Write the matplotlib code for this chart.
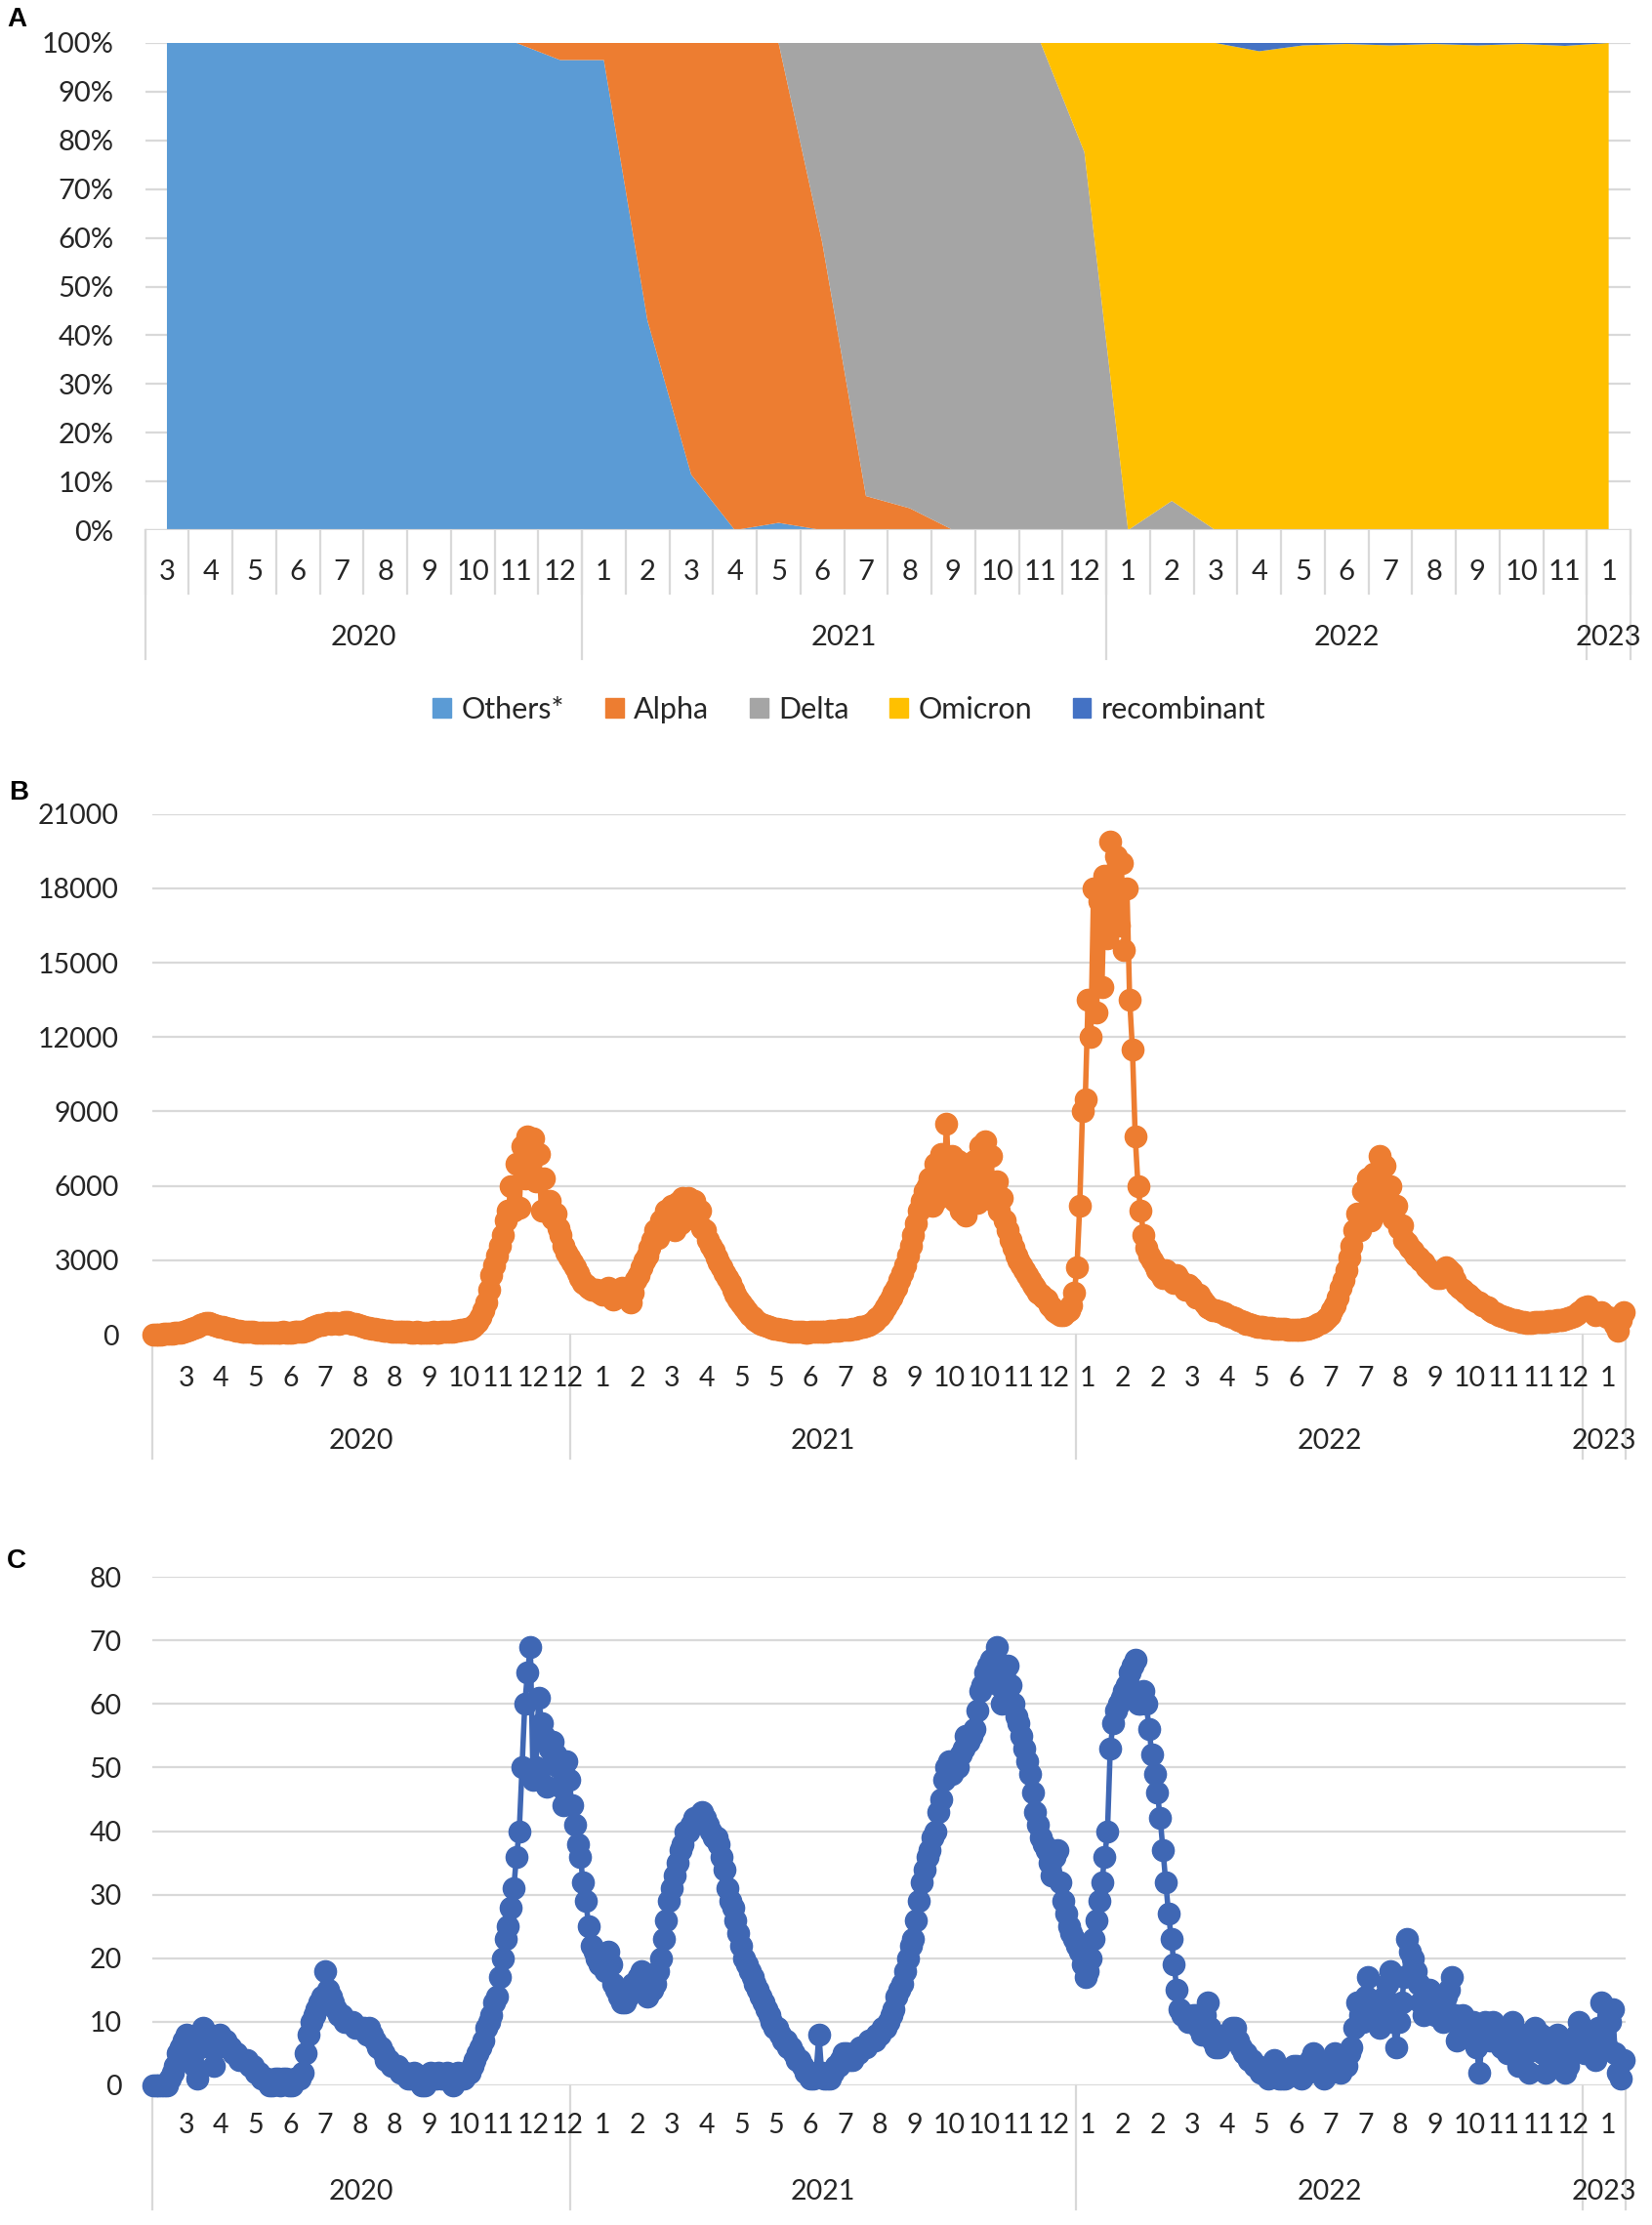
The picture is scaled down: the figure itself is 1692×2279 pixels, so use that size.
import numpy as np
import matplotlib
matplotlib.use('Agg')
import matplotlib.pyplot as plt
from matplotlib import transforms
from matplotlib.patches import Patch

plt.rcParams['font.family'] = ['Lato', 'DejaVu Sans']

W, H = 1692, 2279
GRID = '#D9D9D9'
TXT = '#262626'

# ---------------- panel A: monthly share of variants (%) ----------------
a_months = ['3', '4', '5', '6', '7', '8', '9', '10', '11', '12',
            '1', '2', '3', '4', '5', '6', '7', '8', '9', '10', '11', '12',
            '1', '2', '3', '4', '5', '6', '7', '8', '9', '10', '11',
            '1']
years = ['2020', '2021', '2022', '2023']
a_year_sizes = [10, 12, 11, 1]

others = [100, 100, 100, 100, 100, 100, 100, 100, 100, 96.5,
          96.5, 43, 11.4, 0, 1.5, 0, 0, 0, 0, 0, 0, 0,
          0, 0, 0, 0, 0, 0, 0, 0, 0, 0, 0,
          0]
alpha_v = [0, 0, 0, 0, 0, 0, 0, 0, 0, 3.5,
           3.5, 57, 88.6, 100, 98.5, 59, 7, 4.5, 0, 0, 0, 0,
           0, 0, 0, 0, 0, 0, 0, 0, 0, 0, 0,
           0]
delta = [0, 0, 0, 0, 0, 0, 0, 0, 0, 0,
         0, 0, 0, 0, 0, 41, 93, 95.5, 100, 100, 100, 77.6,
         0, 6, 0, 0, 0, 0, 0, 0, 0, 0, 0,
         0]
omicron = [0, 0, 0, 0, 0, 0, 0, 0, 0, 0,
           0, 0, 0, 0, 0, 0, 0, 0, 0, 0, 0, 22.4,
           100, 94, 100, 98.3, 99.5, 99.8, 99.5, 99.8, 99.5, 99.8, 99.4,
           100]
recomb = [0, 0, 0, 0, 0, 0, 0, 0, 0, 0,
          0, 0, 0, 0, 0, 0, 0, 0, 0, 0, 0, 0,
          0, 0, 0, 1.7, 0.5, 0.2, 0.5, 0.2, 0.5, 0.2, 0.6,
          0]
variant_names = ['Others*', 'Alpha', 'Delta', 'Omicron', 'recombinant']
variant_colors = ['#5B9BD5', '#ED7D31', '#A5A5A5', '#FFC000', '#4472C4']

# ---------------- panels B and C: daily series, every 2nd day from 2020-03-06 ----------------
start_date = np.datetime64('2020-03-06')
step_days = 2
cases = [
    0, 5, 10, 15, 20, 30, 40, 50, 60, 75, 90, 120, 150, 190, 230, 260, 300, 380, 420, 460,
    470, 430, 400, 360, 330, 300, 280, 250, 220, 190, 170, 150, 130, 120, 110, 100, 100, 95, 90, 85,
    80, 60, 70, 90, 80, 70, 90, 100, 80, 70, 90, 110, 100, 120, 130, 170, 200, 260, 300, 350,
    380, 400, 420, 460, 440, 480, 460, 420, 490, 520, 500, 470, 450, 420, 400, 360, 330, 290, 260, 240,
    220, 200, 180, 160, 150, 140, 130, 120, 110, 100, 100, 110, 100, 80, 90, 100, 90, 70, 80, 90,
    90, 100, 90, 80, 100, 120, 110, 100, 130, 150, 160, 180, 190, 220, 250, 300, 380, 500, 700, 1000,
    1300, 1800, 2400, 2800, 3200, 3600, 4000, 4600, 5000, 6000, 5000, 6900, 5100, 7600, 6300, 8000, 6800, 7900, 6200, 7300,
    5000, 6300, 5000, 5400, 4700, 4900, 4300, 4000, 3600, 3300, 3100, 2900, 2700, 2500, 2300, 2100, 2000, 1900, 1800, 1800,
    1800, 1700, 1600, 1800, 1900, 1600, 1400, 1700, 1800, 1900, 1700, 1500, 1300, 1700, 2200, 2400, 2700, 3000, 3200, 3500,
    3800, 4200, 3900, 4600, 4300, 5000, 4400, 5200, 4200, 5300, 4500, 5500, 4700, 5500, 4800, 5400, 4600, 5000, 4300, 4200,
    3800, 3600, 3400, 3100, 2900, 2700, 2500, 2300, 2100, 1800, 1600, 1400, 1250, 1100, 950, 800, 700, 600, 500, 450,
    400, 350, 300, 270, 250, 220, 200, 180, 160, 140, 130, 120, 110, 100, 100, 90, 90, 100, 100, 110,
    110, 120, 120, 130, 140, 150, 160, 170, 180, 190, 200, 210, 220, 250, 280, 300, 330, 360, 400, 470,
    550, 650, 750, 900, 1100, 1300, 1500, 1700, 1900, 2200, 2500, 2800, 3200, 3600, 4000, 4500, 5000, 5400, 5800, 6000,
    6300, 5200, 6900, 5500, 7300, 6000, 8500, 5800, 7200, 5400, 7000, 5000, 6400, 4800, 6600, 5600, 7000, 5300, 7600, 6000,
    7800, 5500, 7200, 5400, 6200, 5000, 5500, 4600, 4200, 3800, 3500, 3200, 3000, 2800, 2600, 2400, 2200, 2000, 1900, 1700,
    1600, 1500, 1400, 1200, 1100, 950, 850, 800, 800, 900, 1000, 1200, 1700, 2700, 5200, 9000, 9500, 13500, 12000, 18000,
    13000, 17500, 14000, 18500, 16000, 19900, 17000, 19300, 16500, 19000, 15500, 18000, 13500, 11500, 8000, 6000, 5000, 4000, 3500, 3200,
    3000, 2800, 2600, 2500, 2300, 2600, 2400, 2200, 2100, 2400, 2200, 2000, 1800, 2000, 1900, 1700, 1500, 1600, 1400, 1250,
    1100, 1050, 1000, 1000, 950, 900, 850, 800, 750, 700, 650, 600, 550, 500, 450, 420, 380, 350, 330, 310,
    300, 280, 270, 260, 250, 240, 230, 220, 220, 210, 200, 200, 200, 200, 210, 230, 250, 290, 330, 370,
    420, 480, 550, 650, 800, 1000, 1200, 1500, 1900, 2200, 2600, 3100, 3600, 4200, 4900, 4200, 5800, 5000, 6300, 4600,
    6500, 5200, 7200, 5600, 6800, 5000, 6000, 4700, 5200, 4300, 4400, 3800, 3700, 3500, 3400, 3200, 3100, 3000, 2900, 2700,
    2600, 2500, 2400, 2300, 2300, 2500, 2700, 2600, 2500, 2200, 2000, 1900, 1800, 1700, 1600, 1500, 1400, 1350, 1300, 1200,
    1150, 1100, 1000, 900, 850, 800, 750, 700, 650, 620, 600, 580, 550, 520, 500, 490, 480, 490, 500, 500,
    500, 510, 520, 540, 550, 560, 580, 590, 600, 620, 650, 700, 750, 820, 900, 1000, 1100, 1150, 1000, 900,
    800, 850, 900, 800, 700, 680, 650, 400, 150, 600, 900,
]
deaths = [
    0, 0, 0, 0, 0, 0, 1, 2, 3, 5, 6, 7, 8, 7, 6, 3, 1, 6, 9, 8,
    8, 6, 3, 6, 8, 7, 7, 6, 6, 5, 5, 4, 4, 4, 4, 3, 3, 2, 2, 1,
    1, 1, 0, 0, 1, 1, 0, 1, 1, 0, 0, 1, 1, 1, 2, 5, 8, 10, 11, 12,
    13, 14, 18, 15, 14, 13, 12, 11, 11, 10, 10, 10, 10, 9, 9, 9, 9, 8, 9, 8,
    7, 6, 6, 5, 4, 4, 3, 3, 3, 2, 2, 2, 1, 1, 2, 1, 1, 0, 0, 1,
    2, 1, 1, 2, 1, 1, 2, 1, 0, 1, 2, 1, 1, 2, 2, 3, 4, 5, 6, 7,
    9, 10, 11, 13, 14, 17, 20, 23, 25, 28, 31, 36, 40, 50, 60, 65, 69, 48, 50, 61,
    57, 55, 47, 53, 54, 52, 50, 47, 44, 51, 48, 44, 41, 38, 36, 32, 29, 25, 22, 21,
    20, 19, 19, 18, 21, 19, 16, 15, 14, 13, 13, 14, 15, 16, 16, 17, 18, 15, 14, 15,
    15, 16, 18, 20, 23, 26, 29, 31, 33, 35, 37, 38, 40, 40, 41, 42, 42, 42, 43, 42,
    41, 40, 39, 39, 38, 36, 34, 31, 29, 28, 26, 24, 22, 20, 19, 18, 17, 16, 15, 14,
    13, 12, 11, 10, 9, 9, 8, 7, 7, 6, 6, 5, 4, 4, 3, 2, 2, 1, 1, 2,
    8, 2, 1, 1, 1, 2, 3, 3, 4, 5, 5, 4, 4, 5, 5, 6, 6, 6, 7, 7,
    7, 8, 8, 9, 9, 10, 11, 12, 14, 15, 16, 18, 20, 22, 23, 26, 29, 32, 34, 36,
    37, 39, 40, 43, 45, 48, 50, 51, 49, 51, 50, 52, 53, 55, 54, 55, 56, 59, 62, 63,
    65, 66, 67, 65, 69, 63, 60, 64, 66, 63, 60, 58, 57, 55, 53, 51, 49, 46, 43, 41,
    39, 38, 37, 35, 33, 36, 37, 32, 29, 27, 25, 24, 23, 22, 21, 19, 17, 18, 20, 23,
    26, 29, 32, 36, 40, 53, 57, 59, 60, 61, 62, 63, 65, 66, 67, 60, 60, 62, 60, 56,
    52, 49, 46, 42, 37, 32, 27, 23, 19, 15, 12, 11, 11, 10, 10, 11, 11, 9, 8, 11,
    13, 9, 7, 6, 6, 7, 7, 8, 8, 9, 9, 7, 6, 5, 5, 4, 4, 3, 3, 2,
    2, 2, 1, 3, 4, 2, 1, 1, 1, 2, 2, 3, 3, 2, 1, 2, 2, 4, 5, 4,
    3, 2, 1, 2, 2, 4, 5, 3, 2, 3, 3, 5, 6, 9, 13, 11, 10, 14, 17, 13,
    11, 10, 9, 12, 14, 16, 18, 10, 6, 10, 13, 17, 23, 21, 20, 18, 16, 13, 11, 13,
    15, 12, 11, 13, 12, 10, 14, 15, 17, 11, 7, 9, 11, 10, 9, 8, 10, 6, 2, 7,
    10, 8, 7, 10, 9, 7, 6, 8, 5, 7, 10, 6, 3, 6, 8, 5, 2, 6, 9, 7,
    8, 5, 2, 5, 7, 6, 8, 5, 4, 2, 3, 5, 6, 8, 10, 7, 5, 7, 8, 6,
    4, 9, 13, 8, 6, 10, 12, 5, 2, 1, 4,
]
n_days = 1062
daily_months = ['3', '4', '5', '6', '7', '8', '8', '9', '10', '11', '12', '12',
                '1', '2', '3', '4', '5', '5', '6', '7', '8', '9', '10', '10', '11', '12',
                '1', '2', '2', '3', '4', '5', '6', '7', '7', '8', '9', '10', '11', '11', '12',
                '1']
label_first, label_every = 24, 25
year_starts = ['2021-01-01', '2022-01-01', '2023-01-01']


def fy(py):
    return 1 - py / H


fig = plt.figure(figsize=(W / 100, H / 100), dpi=100)


def style_axis(ax, pad_px, size):
    for s in ax.spines.values():
        s.set_visible(False)
    ax.yaxis.grid(True, color=GRID, lw=1.6)
    ax.set_axisbelow(True)
    ax.tick_params(axis='y', length=0, pad=pad_px * 0.72, labelsize=size, labelcolor=TXT)
    ax.tick_params(axis='x', length=0, labelbottom=False)
    ax.set_xticks([])


def under_axis(ax, seps, seps_year, labels_pos, labels, years_pos,
               y_axis, y_month_line, y_year_line, y_month, y_year, size):
    tr = transforms.blended_transform_factory(ax.transData, fig.transFigure)
    for b in seps:
        ax.plot([b, b], [fy(y_axis), fy(y_month_line)], transform=tr, color=GRID,
                lw=1.6, clip_on=False, zorder=1)
    for b in seps_year:
        ax.plot([b, b], [fy(y_axis), fy(y_year_line)], transform=tr, color=GRID,
                lw=1.6, clip_on=False, zorder=1)
    for p, t in zip(labels_pos, labels):
        ax.text(p, fy(y_month), t, transform=tr, ha='center', va='center',
                fontsize=size, color=TXT)
    for p, t in zip(years_pos, years):
        ax.text(p, fy(y_year), t, transform=tr, ha='center', va='center',
                fontsize=size, color=TXT)


# ---------------- A ----------------
axA = fig.add_axes([148.6 / W, fy(543), (1670 - 148.6) / W, (543 - 44) / H])
xa = np.arange(len(a_months))
axA.stackplot(xa, others, alpha_v, delta, omicron, recomb, colors=variant_colors,
              linewidth=0, zorder=2)
axA.set_xlim(-0.5, len(a_months) - 0.5)
axA.set_ylim(0, 100)
axA.set_yticks(range(0, 101, 10))
axA.set_yticklabels([f'{v}%' for v in range(0, 101, 10)])
style_axis(axA, 32, 21)
axA.axhline(0, color=GRID, lw=1.6, zorder=3)
bounds = np.concatenate([[0], np.cumsum(a_year_sizes)]) - 0.5
mids = (bounds[:-1] + bounds[1:]) / 2
under_axis(axA, np.arange(len(a_months) + 1) - 0.5, bounds, xa, a_months, mids,
           543, 608, 675, 586, 653, 21)
handles = [Patch(color=c) for c in variant_colors]
fig.legend(handles, variant_names, loc='center', bbox_to_anchor=(870 / W, fy(727)),
           ncol=5, frameon=False, fontsize=22, handlelength=0.62, handleheight=0.62,
           handletextpad=0.35, columnspacing=1.35, labelcolor=TXT)

# ---------------- B and C ----------------
ystart = (np.array(year_starts, dtype='datetime64[D]') - start_date).astype(int)
d_bounds = np.concatenate([[0], ystart, [n_days]]) - 0.5
d_mids = (d_bounds[:-1] + d_bounds[1:]) / 2
lab_pos = label_first + label_every * np.arange(len(daily_months))


def daily_panel(top, bottom, values, color, ymax, ystep, lines, pad):
    ax = fig.add_axes([156 / W, fy(bottom), (1665 - 156) / W, (bottom - top) / H])
    ax.plot(np.arange(len(values)) * step_days, values, color=color, lw=4, marker='o',
            ms=16, mec=color, mfc=color, clip_on=False, zorder=3)
    ax.set_xlim(-0.5, n_days - 0.5)
    ax.set_ylim(0, ymax)
    ax.set_yticks(range(0, ymax + 1, ystep))
    style_axis(ax, pad, 20.5)
    under_axis(ax, [], d_bounds, lab_pos, daily_months, d_mids, bottom, *lines, 20.5)
    return ax


axB = daily_panel(833.7, 1367, cases, '#ED7D31', 21000, 3000, (1494, 1494, 1412, 1476), 34)
axC = daily_panel(1615, 2136, deaths, '#3F67B4', 80, 10, (2263, 2263, 2177, 2245), 31)

for lab, px, py in [('A', 17, 20), ('B', 19, 812), ('C', 17, 1599)]:
    fig.text(px / W, fy(py), lab, ha='center', va='center', fontsize=20,
             fontweight='bold', family='Liberation Sans', color='black')

fig.savefig('out.png', dpi=100)
